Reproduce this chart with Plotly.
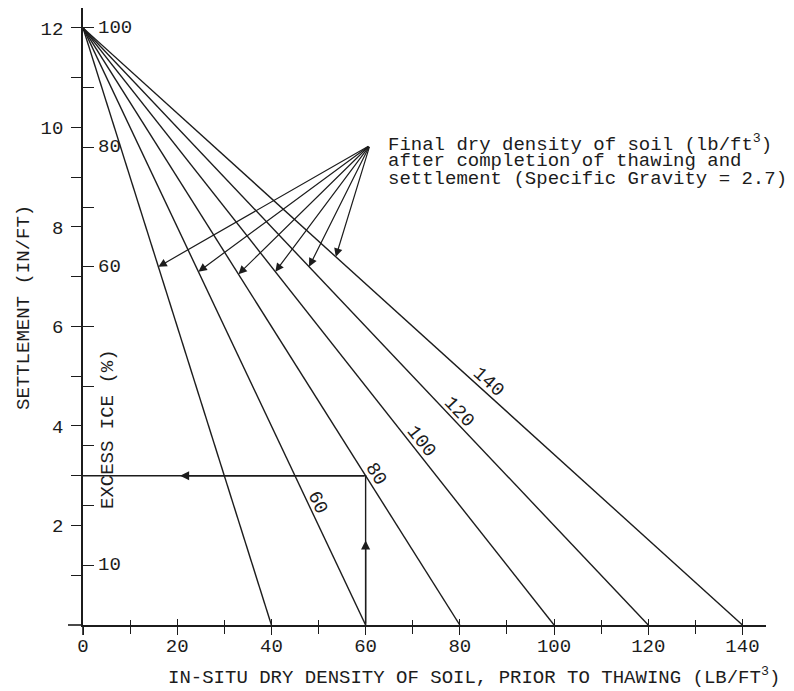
import math
import plotly.graph_objects as go

# ---------------- data ----------------
final_density = [40, 60, 80, 100, 120, 140]          # lb/ft^3, final dry density lines
max_settlement = 12.0                                 # in/ft at zero in-situ density
line_labels = ["", "60", "80", "100", "120", "140"]
label_settlement = [None, 2.38, 2.93, 3.58, 4.16, 4.74]
arrow_tip_settlement = [7.2, 7.1, 7.05, 7.1, 7.2, 7.4]
callout_origin = (60.9, 9.64)
callout_lines = ["Final dry density of soil (lb/ft<sup>3</sup>)",
                 "after completion of thawing and",
                 "settlement (Specific Gravity = 2.7)"]
example_density = 60
example_settlement = 3.0
example_arrow_up = 1.7
example_arrow_left = 20.6

x_major_ticks = [0, 20, 40, 60, 80, 100, 120, 140]
x_minor_ticks = [10, 30, 50, 70, 90, 110, 130]
y_ticks = [1, 2, 3, 4, 5, 6, 7, 8, 9, 10, 11, 12]
y_tick_text = ["", "2", "", "4", "", "6", "", "8", "", "10", "", "12"]
excess_ice_pct = [10, 20, 30, 40, 50, 60, 70, 80, 90, 100]
excess_ice_labels = ["10", "", "", "", "", "60", "", "80", "", "100"]

# ---------------- layout geometry ----------------
W, H = 794, 691
OFF = 8                      # page body margin
ML, MT = 83 - OFF, 0
XR = [0, 145]
YR = [0, 12.4]
Y0_FIG = 625 - OFF           # figure px of y=0
MB = H - Y0_FIG
PH = Y0_FIG - MT
px_y = PH / (YR[1] - YR[0])
px_x = px_y * 0 + 4.712
PW = round(px_x * (XR[1] - XR[0]))
MR = W - ML - PW
px_x = PW / (XR[1] - XR[0])

def paper_x(sx):
    return (sx - OFF - ML) / PW

def paper_y(sy):
    return (Y0_FIG - (sy - OFF)) / PH

FONT = "Liberation Mono, Courier New, monospace"
INK = "#1c1c1c"
FS = 19

fig = go.Figure()

for gf in final_density:
    fig.add_trace(go.Scatter(x=[0, gf], y=[max_settlement, 0], mode="lines",
                             line=dict(color=INK, width=1.4), hoverinfo="skip",
                             showlegend=False))

fig.add_trace(go.Scatter(x=[example_density, example_density, 0],
                         y=[0, example_settlement, example_settlement],
                         mode="lines", line=dict(color=INK, width=1.4),
                         hoverinfo="skip", showlegend=False))

fig.add_trace(go.Scatter(x=[None], y=[None], xaxis="x2", yaxis="y", showlegend=False))
fig.add_trace(go.Scatter(x=[None], y=[None], xaxis="x", yaxis="y2", showlegend=False))

ann = []
for gf, lab, ys in zip(final_density, line_labels, label_settlement):
    if not lab:
        continue
    xl = gf * (1 - ys / max_settlement)
    a = gf * px_x
    b = max_settlement * px_y
    n = math.hypot(a, b)
    ang = math.degrees(math.atan2(b, a))
    d = 9
    ann.append(dict(x=xl, y=ys, text=lab, showarrow=False, textangle=ang,
                    xshift=d * b / n, yshift=d * a / n,
                    font=dict(family=FONT, size=FS, color=INK)))

ox, oy = callout_origin
for gf, ys in zip(final_density, arrow_tip_settlement):
    xt = gf * (1 - ys / max_settlement)
    ann.append(dict(x=xt, y=ys, ax=ox, ay=oy, axref="x", ayref="y", text="",
                    showarrow=True, arrowhead=2, arrowsize=1.4, arrowwidth=1.2,
                    arrowcolor=INK))

for i, t in enumerate(callout_lines):
    sy = 143 + 18 * i
    ann.append(dict(x=paper_x(386), y=paper_y(sy), xref="paper", yref="paper",
                    text=t, showarrow=False, xanchor="left", yanchor="middle",
                    font=dict(family=FONT, size=FS, color=INK)))

# excess ice labels (inside, right of the y axis)
for p, lab in zip(excess_ice_pct, excess_ice_labels):
    if not lab:
        continue
    ann.append(dict(x=0, y=p / 100 * max_settlement, text=lab, showarrow=False,
                    xanchor="left", yanchor="middle", xshift=13,
                    font=dict(family=FONT, size=FS, color=INK)))

ann.append(dict(x=example_density, y=example_arrow_up, ax=example_density, ay=0,
                axref="x", ayref="y", text="", showarrow=True, arrowhead=2,
                arrowsize=1.4, arrowwidth=1.3, arrowcolor=INK))
ann.append(dict(x=example_arrow_left, y=example_settlement, ax=example_density,
                ay=example_settlement, axref="x", ayref="y", text="", showarrow=True,
                arrowhead=2, arrowsize=1.4, arrowwidth=1.3, arrowcolor=INK))

ann.append(dict(x=paper_x(24), y=paper_y(308), xref="paper", yref="paper",
                text="SETTLEMENT (IN/FT)", textangle=-90, showarrow=False,
                xanchor="center", yanchor="middle",
                font=dict(family=FONT, size=FS, color=INK)))
ann.append(dict(x=paper_x(108), y=paper_y(429), xref="paper", yref="paper",
                text="EXCESS ICE (%)", textangle=-90, showarrow=False,
                xanchor="center", yanchor="middle",
                font=dict(family=FONT, size=FS, color=INK)))
ann.append(dict(x=paper_x(474), y=paper_y(676), xref="paper", yref="paper",
                text="IN-SITU DRY DENSITY OF SOIL, PRIOR TO THAWING (LB/FT<sup>3</sup>)",
                showarrow=False, xanchor="center", yanchor="middle",
                font=dict(family=FONT, size=FS, color=INK)))

shapes = [
    dict(type="line", xref="paper", yref="paper", x0=0, x1=0, y0=0, y1=-10 / PH,
         line=dict(color=INK, width=1.6)),
    dict(type="line", xref="paper", yref="paper", x0=-15 / PW, x1=0, y0=0, y1=0,
         line=dict(color=INK, width=1.6)),
]

tickfont = dict(family=FONT, size=FS, color=INK)
fig.update_layout(
    width=W, height=H, margin=dict(l=ML, r=MR, t=MT, b=MB, autoexpand=False),
    paper_bgcolor="white", plot_bgcolor="white", showlegend=False,
    xaxis=dict(range=XR, tickvals=x_major_ticks, ticks="outside", ticklen=8,
               tickwidth=1.3, tickcolor=INK, showline=True, linecolor=INK, linewidth=1.6,
               showgrid=False, zeroline=False, tickfont=tickfont, ticklabelstandoff=-6,
               minor=dict(tickvals=x_minor_ticks, ticks="outside", ticklen=7,
                          tickwidth=1.2, tickcolor=INK, showgrid=False)),
    xaxis2=dict(range=XR, overlaying="x", anchor="y", side="bottom",
                tickvals=x_major_ticks, ticks="inside", ticklen=6, tickwidth=1.3,
                tickcolor=INK, showticklabels=False, showgrid=False, zeroline=False,
                showline=False,
                minor=dict(tickvals=x_minor_ticks, ticks="inside", ticklen=5,
                           tickwidth=1.2, tickcolor=INK, showgrid=False)),
    yaxis=dict(range=YR, tickvals=y_ticks, ticktext=y_tick_text, ticks="outside",
               ticklen=10, tickwidth=1.3, tickcolor=INK, showline=True, linecolor=INK,
               linewidth=1.6, showgrid=False, zeroline=False, tickfont=tickfont,
               ticklabelstandoff=4),
    yaxis2=dict(range=YR, overlaying="y", anchor="x", side="left",
                tickvals=[p / 100 * max_settlement for p in excess_ice_pct],
                ticks="inside", ticklen=11, tickwidth=1.3, tickcolor=INK,
                showticklabels=False, showgrid=False, zeroline=False, showline=False),
    annotations=ann, shapes=shapes,
)

fig.write_html("out.html")
